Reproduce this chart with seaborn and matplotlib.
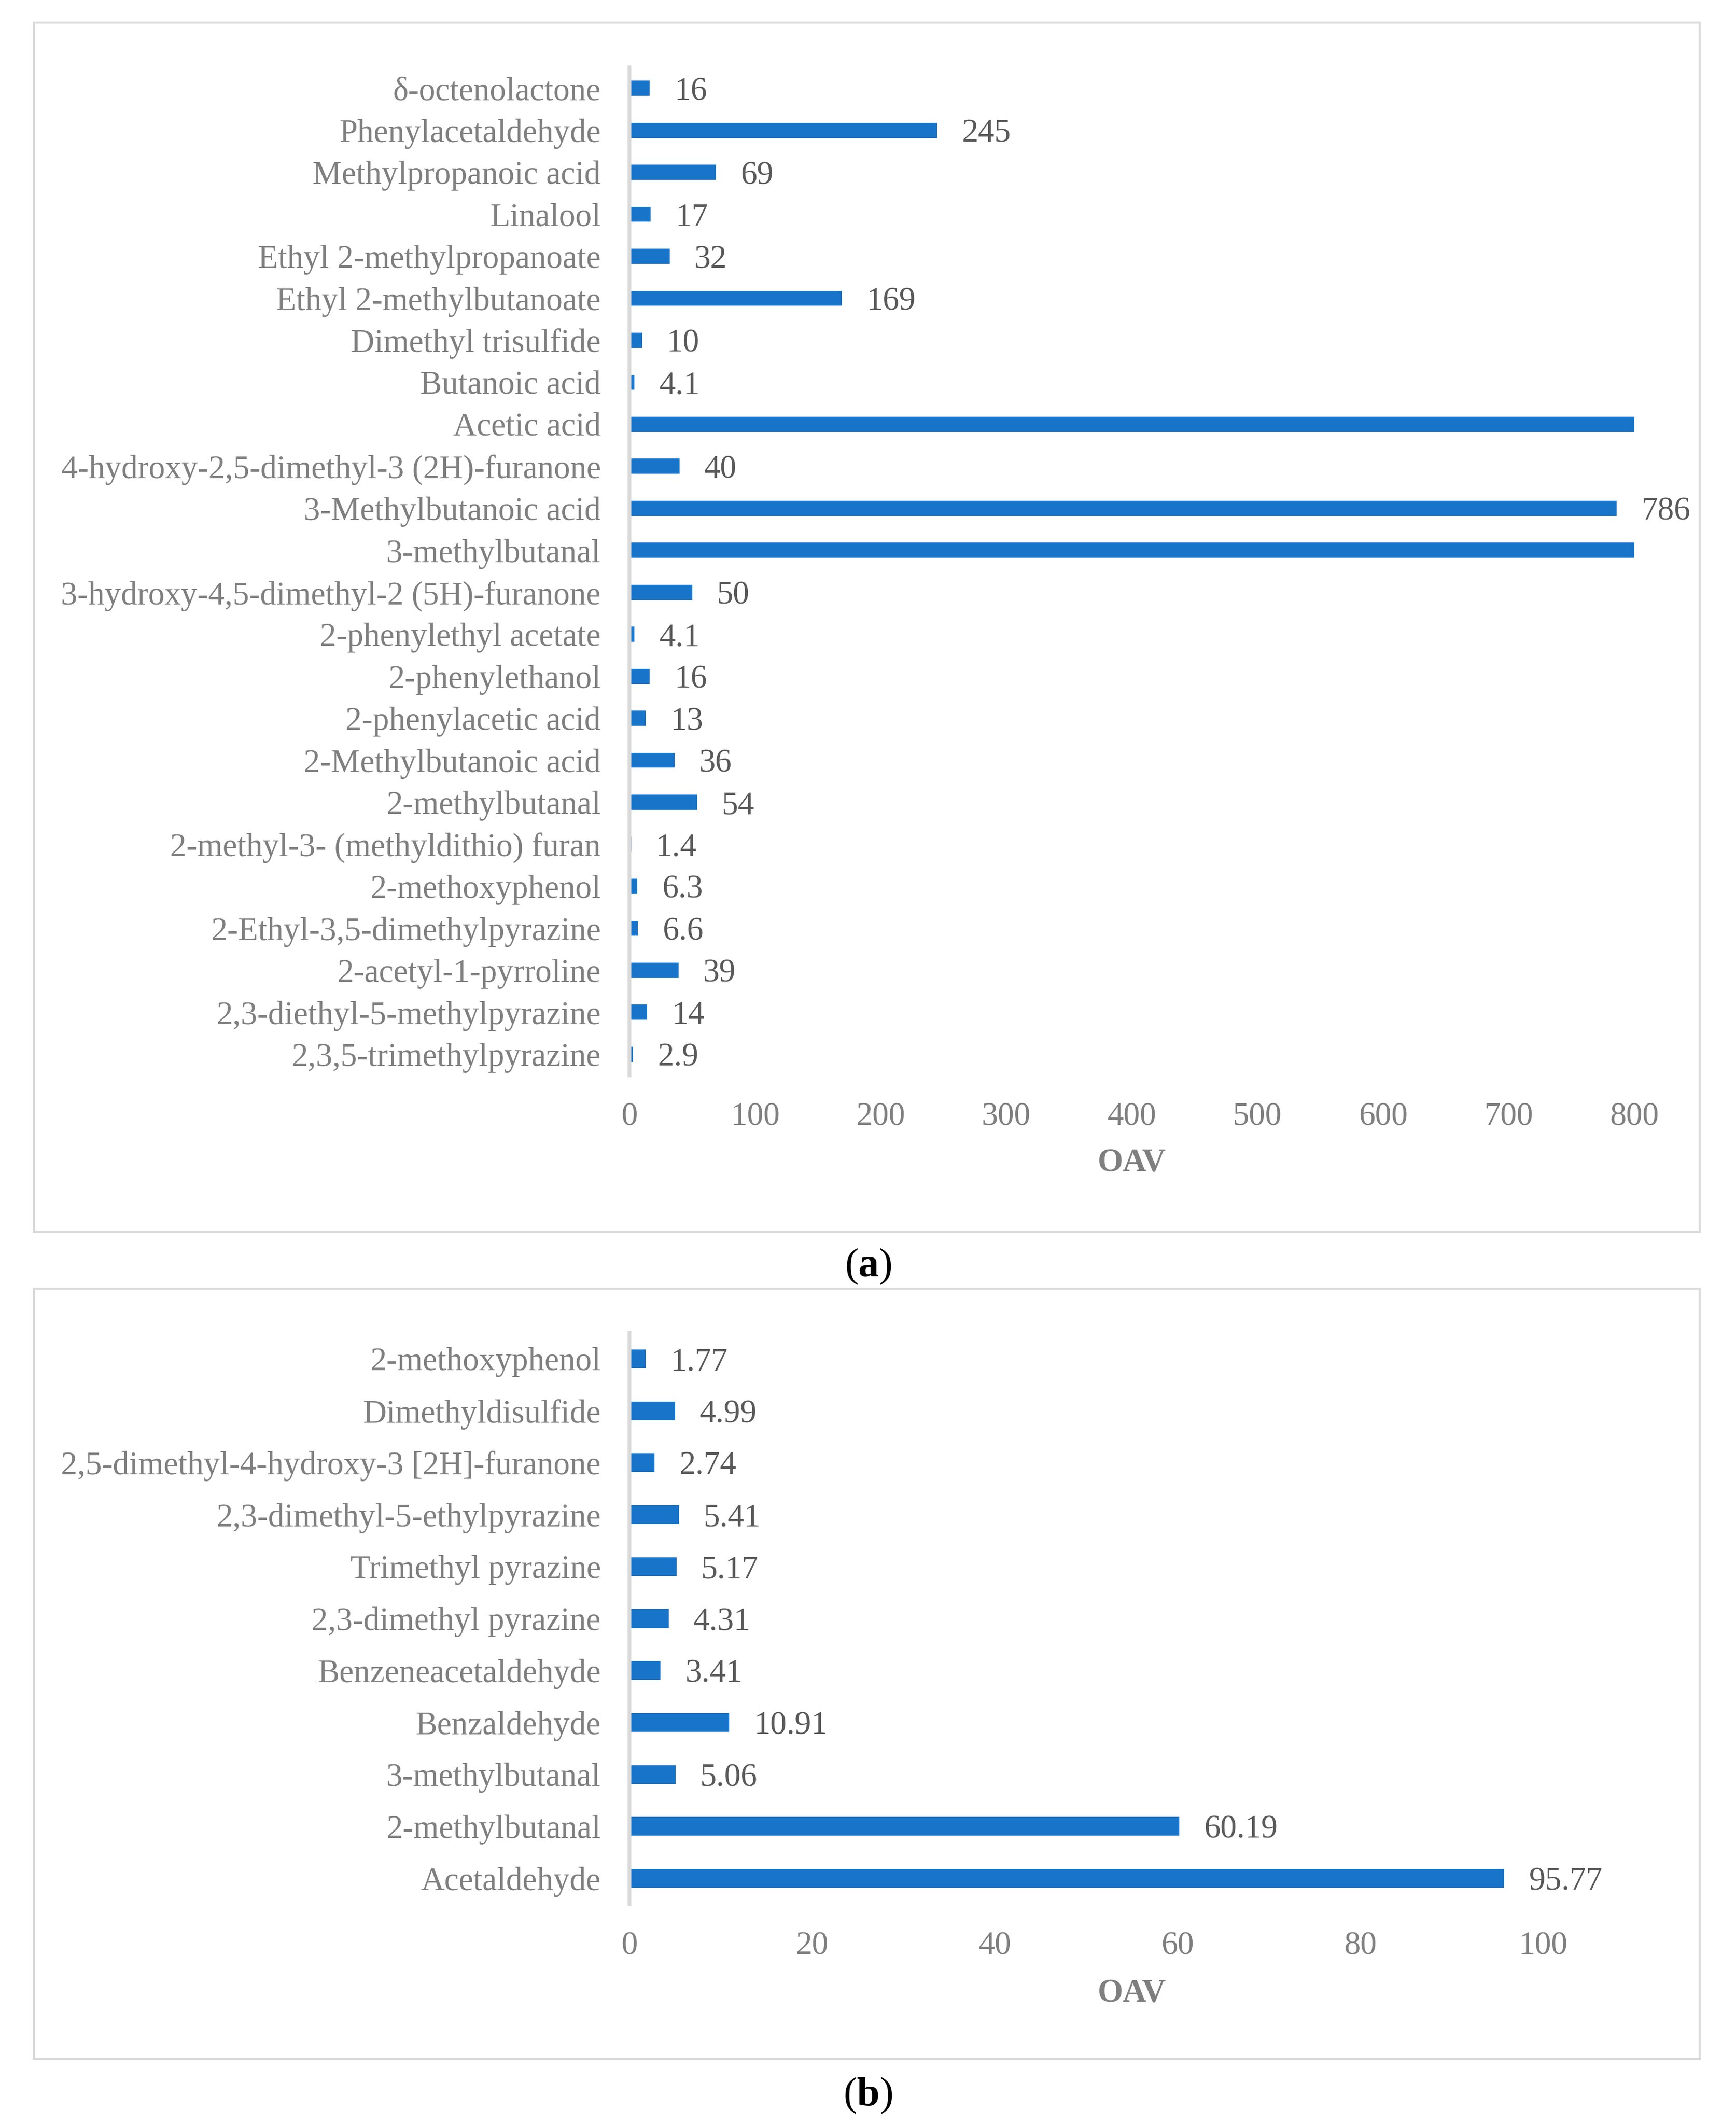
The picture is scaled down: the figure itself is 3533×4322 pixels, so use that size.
import matplotlib
matplotlib.use("Agg")
import matplotlib.pyplot as plt
from matplotlib.patches import Rectangle
import seaborn as sns
import pandas as pd

# panel (a): top to bottom as drawn
compounds_a = [
    "δ-octenolactone", "Phenylacetaldehyde", "Methylpropanoic acid", "Linalool",
    "Ethyl 2-methylpropanoate", "Ethyl 2-methylbutanoate", "Dimethyl trisulfide",
    "Butanoic acid", "Acetic acid", "4-hydroxy-2,5-dimethyl-3 (2H)-furanone",
    "3-Methylbutanoic acid", "3-methylbutanal", "3-hydroxy-4,5-dimethyl-2 (5H)-furanone",
    "2-phenylethyl acetate", "2-phenylethanol", "2-phenylacetic acid",
    "2-Methylbutanoic acid", "2-methylbutanal", "2-methyl-3- (methyldithio) furan",
    "2-methoxyphenol", "2-Ethyl-3,5-dimethylpyrazine", "2-acetyl-1-pyrroline",
    "2,3-diethyl-5-methylpyrazine", "2,3,5-trimethylpyrazine",
]
# Acetic acid and 3-methylbutanal run off the 800 axis (no label shown) -> estimates
oav_a = [16, 245, 69, 17, 32, 169, 10, 4.1, 1000, 40, 786, 1000, 50,
         4.1, 16, 13, 36, 54, 1.4, 6.3, 6.6, 39, 14, 2.9]

# panel (b)
compounds_b = [
    "2-methoxyphenol", "Dimethyldisulfide", "2,5-dimethyl-4-hydroxy-3 [2H]-furanone",
    "2,3-dimethyl-5-ethylpyrazine", "Trimethyl pyrazine", "2,3-dimethyl pyrazine",
    "Benzeneacetaldehyde", "Benzaldehyde", "3-methylbutanal", "2-methylbutanal",
    "Acetaldehyde",
]
oav_b = [1.77, 4.99, 2.74, 5.41, 5.17, 4.31, 3.41, 10.91, 5.06, 60.19, 95.77]

BAR = "#1874c8"
GRID = "#d9d9d9"
LABEL_GRAY = "#7f7f7f"
VALUE_GRAY = "#595959"
FS = 16.0

sns.set_style("white")
plt.rcParams["font.family"] = ["Liberation Serif", "DejaVu Serif"]
plt.rcParams["mathtext.fontset"] = "custom"
plt.rcParams["mathtext.rm"] = "Liberation Serif"
plt.rcParams["mathtext.bf"] = "Liberation Serif:bold"

W, H = 3533, 4322
fig = plt.figure(figsize=(W / 300, H / 300), dpi=300)


def fx(px):
    return px / W


def fy(py):
    return 1 - py / H


def panel(rect, names, values, xmax, ticks, label_y):
    ax = fig.add_axes(rect)
    df = pd.DataFrame({"compound": names, "OAV": values})
    sns.barplot(data=df, x="OAV", y="compound", orient="h", color=BAR,
                saturation=1, width=0.36, linewidth=0, ax=ax)
    ax.set_xlim(0, xmax)
    ax.set_xticks(ticks)
    ax.set_xticklabels([str(t) for t in ticks])
    labels = ["" if v > xmax else "{:g}".format(v) for v in values]
    anns = ax.bar_label(ax.containers[0], labels=labels, padding=12,
                        fontsize=FS, color=VALUE_GRAY)
    for a in anns:
        a.set_va("center_baseline")
    for s in ["top", "right", "bottom"]:
        ax.spines[s].set_visible(False)
    ax.spines["left"].set_color(GRID)
    ax.spines["left"].set_linewidth(1.8)
    ax.tick_params(axis="y", length=0, pad=14, labelsize=FS, labelcolor=LABEL_GRAY)
    ax.tick_params(axis="x", length=0, pad=13, labelsize=FS, labelcolor=LABEL_GRAY)
    ax.set_ylabel("")
    ax.set_xlabel("OAV", fontsize=FS, fontweight="bold", color=LABEL_GRAY, va="center")
    ax.xaxis.set_label_coords(0.5, label_y)
    return ax


# axes rectangles from the reference pixel layout
left, right = fx(1281), fx(3326)
panel([left, fy(2188), right - left, fy(137) - fy(2188)],
      compounds_a, oav_a, 800, list(range(0, 801, 100)), -(2367 - 2188) / (2188 - 137))
panel([left, fy(3875), right - left, fy(2712) - fy(3875)],
      compounds_b, oav_b, 110, list(range(0, 101, 20)), -(4057 - 3875) / (3875 - 2712))

# outer frames around each chart
for top, bottom in [(46, 2507), (2622, 4190)]:
    fig.patches.append(Rectangle((fx(69), fy(bottom)), fx(3459) - fx(69), fy(top) - fy(bottom),
                                 transform=fig.transFigure, fill=False,
                                 edgecolor=GRID, linewidth=1.0))

fig.text(0.5, fy(2577), r"($\mathbf{a}$)", ha="center", va="center", fontsize=20, color="black")
fig.text(0.5, fy(4264), r"($\mathbf{b}$)", ha="center", va="center", fontsize=20, color="black")

fig.savefig("out.png", dpi=300, facecolor="white")
